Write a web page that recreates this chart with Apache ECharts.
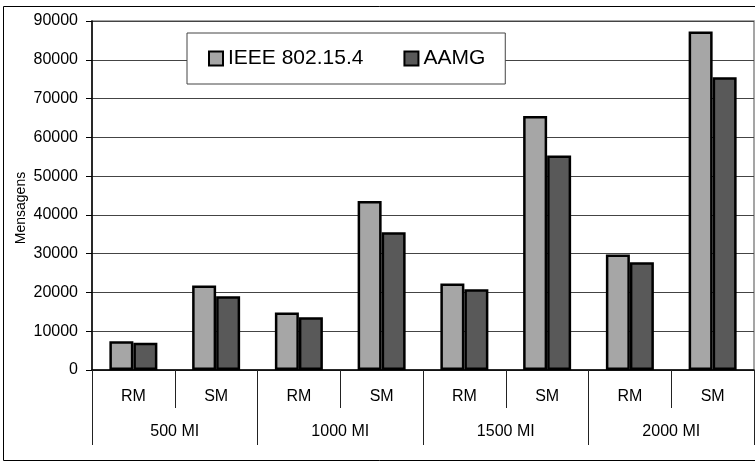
<!DOCTYPE html>
<html>
<head>
<meta charset="utf-8">
<script src="https://cdn.jsdelivr.net/npm/echarts@6/dist/echarts.min.js"></script>
<style>
  html, body { margin: 0; padding: 0; background: #fff; }
  #main { width: 755px; height: 462px; }
</style>
</head>
<body>
<div id="main"></div>
<script>
// valores
var groups = ['500 MI', '1000 MI', '1500 MI', '2000 MI'];
var subLabels = ['RM', 'SM', 'RM', 'SM', 'RM', 'SM', 'RM', 'SM'];
var ieee = [7400, 21800, 14800, 43600, 22300, 65500, 29800, 87300];
var aamg = [7000, 19000, 13600, 35500, 20800, 55300, 27800, 75500];
var yTicks = [0, 10000, 20000, 30000, 40000, 50000, 60000, 70000, 80000, 90000];

var fontName = 'Liberation Sans, Arial, sans-serif';
var myChart = echarts.init(document.getElementById('main'));

var option = {
    backgroundColor: '#fff',
    animation: false,
    textStyle: { fontFamily: fontName },
    graphic: [{
        type: 'rect',
        shape: { x: 3.5, y: 6.5, width: 800, height: 454 },
        style: { fill: 'none', stroke: '#000', lineWidth: 1 },
        z: -10
    }, {
        // titulo do eixo y
        type: 'text',
        x: 21, y: 208,
        rotation: Math.PI / 2,
        style: {
            text: 'Mensagens', fontSize: 14, fill: '#000', fontFamily: fontName,
            align: 'center', verticalAlign: 'middle'
        }
    }],
    grid: {
        left: 92, right: 1, top: 21, bottom: 92,
        show: true, borderColor: '#888', borderWidth: 1.5, backgroundColor: 'transparent'
    },
    legend: {
        left: 187, top: 33,
        padding: [15, 20, 15, 21],
        backgroundColor: '#fff',
        borderColor: '#444', borderWidth: 1,
        itemWidth: 14, itemHeight: 14, itemGap: 40,
        icon: 'rect',
        textStyle: { fontSize: 21, color: '#000', fontFamily: fontName },
        data: ['IEEE 802.15.4', 'AAMG']
    },
    xAxis: [{
        type: 'category',
        data: subLabels,
        position: 'bottom',
        axisLine: { lineStyle: { color: '#000', width: 1.5 } },
        axisTick: { show: true, interval: 0, length: 38, lineStyle: { color: '#222' } },
        axisLabel: { interval: 0, margin: 19, fontSize: 16, color: '#000', fontFamily: fontName }
    }, {
        type: 'category',
        data: groups,
        position: 'bottom',
        axisLine: { show: false },
        axisTick: { show: true, interval: 0, length: 75, lineStyle: { color: '#222' } },
        axisLabel: { interval: 0, margin: 54, fontSize: 16, color: '#000', fontFamily: fontName }
    }],
    yAxis: {
        type: 'value',
        min: yTicks[0],
        max: yTicks[yTicks.length - 1],
        interval: 10000,
        axisLine: { show: true, lineStyle: { color: '#000', width: 1.5 } },
        axisTick: { show: true, length: 6, lineStyle: { color: '#000' } },
        axisLabel: {
            margin: 14, fontSize: 16, color: '#000', fontFamily: fontName,
            formatter: function (v) { return String(v); }
        },
        splitLine: { show: true, lineStyle: { color: '#444', width: 1 } }
    },
    series: [{
        name: 'IEEE 802.15.4',
        type: 'bar',
        xAxisIndex: 0,
        data: ieee,
        barWidth: 24,
        barGap: '0%',
        itemStyle: { color: '#a6a6a6', borderColor: '#000', borderWidth: 2.5 }
    }, {
        name: 'AAMG',
        type: 'bar',
        xAxisIndex: 0,
        data: aamg,
        barWidth: 24,
        barGap: '0%',
        itemStyle: { color: '#595959', borderColor: '#000', borderWidth: 2.5 }
    }]
};
myChart.setOption(option);
</script>
</body>
</html>
